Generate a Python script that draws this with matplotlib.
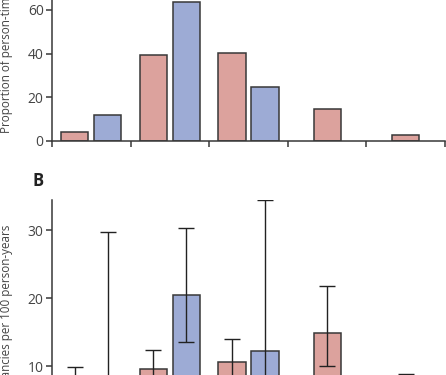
import numpy as np
import matplotlib.pyplot as plt

plt.rcParams['font.family'] = ['Open Sans', 'DejaVu Sans']

# panel A: proportion of person-time (%)
prop_pink = [4.1, 39.4, 40.1, 14.5, 2.7]
prop_blue = [11.9, 63.8, 24.9]

# panel B: pregnancies per 100 person-years with 95% CI
rate_pink = [3.0, 9.5, 10.6, 14.8, 2.5]
rate_pink_lo = [0.6, 7.2, 7.8, 10.0, 0.3]
rate_pink_hi = [9.9, 12.3, 14.0, 21.8, 8.8]
rate_blue = [4.0, 20.4, 12.2]
rate_blue_lo = [0.5, 13.5, 3.5]
rate_blue_hi = [29.8, 30.4, 34.5]

pink = '#dca29d'
blue = '#9dabd5'
edge = '#383838'
txt = '#444444'

W, H = 446, 375
fig = plt.figure(figsize=(W / 100, H / 100), dpi=100)

ngroups = len(prop_pink)
nblue = len(prop_blue)
centers = np.arange(ngroups) + 0.5
off = 0.21
bw = 0.345
x_pink = np.where(np.arange(ngroups) < nblue, centers - off, centers)
x_blue = centers[:nblue] + off


def style(ax, ymax, yticks):
    ax.set_xlim(0, 5)
    ax.set_ylim(0, ymax)
    for s in ['top', 'right']:
        ax.spines[s].set_visible(False)
    for s in ['left', 'bottom']:
        ax.spines[s].set_color(edge)
        ax.spines[s].set_linewidth(1.1)
    ax.set_xticks(np.arange(ngroups + 1))
    ax.set_xticklabels([])
    ax.set_yticks(yticks)
    ax.tick_params(length=4, width=1.1, color=edge, labelcolor=txt,
                   labelsize=10, pad=2)


# top panel
ax1 = fig.add_axes([52 / W, (H - 141) / H, 393 / W, 70 * 2.185 / H])
ax1.bar(x_pink, prop_pink, width=bw, color=pink, edgecolor=edge, linewidth=1.1)
ax1.bar(x_blue, prop_blue, width=bw, color=blue, edgecolor=edge, linewidth=1.1)
style(ax1, 70, [0, 20, 40, 60])
ax1.set_ylabel('Proportion of person-time (%)', fontsize=8.4, color=txt, loc='bottom')
ax1.yaxis.set_label_coords(-0.098, (141 - 133) / (70 * 2.185))

# bottom panel
sc = 6.78
ax2 = fig.add_axes([52 / W, (H - (366 + 10 * sc)) / H, 393 / W, 34.5 * sc / H])
err_kw = dict(ecolor='#222222', elinewidth=1.0, capsize=5.5, capthick=1.0)
ax2.bar(x_pink, rate_pink, width=bw, color=pink, edgecolor=edge, linewidth=1.1,
        yerr=[np.subtract(rate_pink, rate_pink_lo), np.subtract(rate_pink_hi, rate_pink)],
        error_kw=err_kw)
ax2.bar(x_blue, rate_blue, width=bw, color=blue, edgecolor=edge, linewidth=1.1,
        yerr=[np.subtract(rate_blue, rate_blue_lo), np.subtract(rate_blue_hi, rate_blue)],
        error_kw=err_kw)
style(ax2, 34.5, [0, 10, 20, 30])
ax2.set_ylabel('Pregnancies per 100 person-years', fontsize=8.4, color=txt)
ax2.yaxis.set_label_coords(-0.098, 0.5)

fig.text(33 / W, (H - 181) / H, 'B', fontsize=12, fontweight='bold', color='#222222',
         ha='left', va='center')

fig.savefig('out.png', dpi=100)
